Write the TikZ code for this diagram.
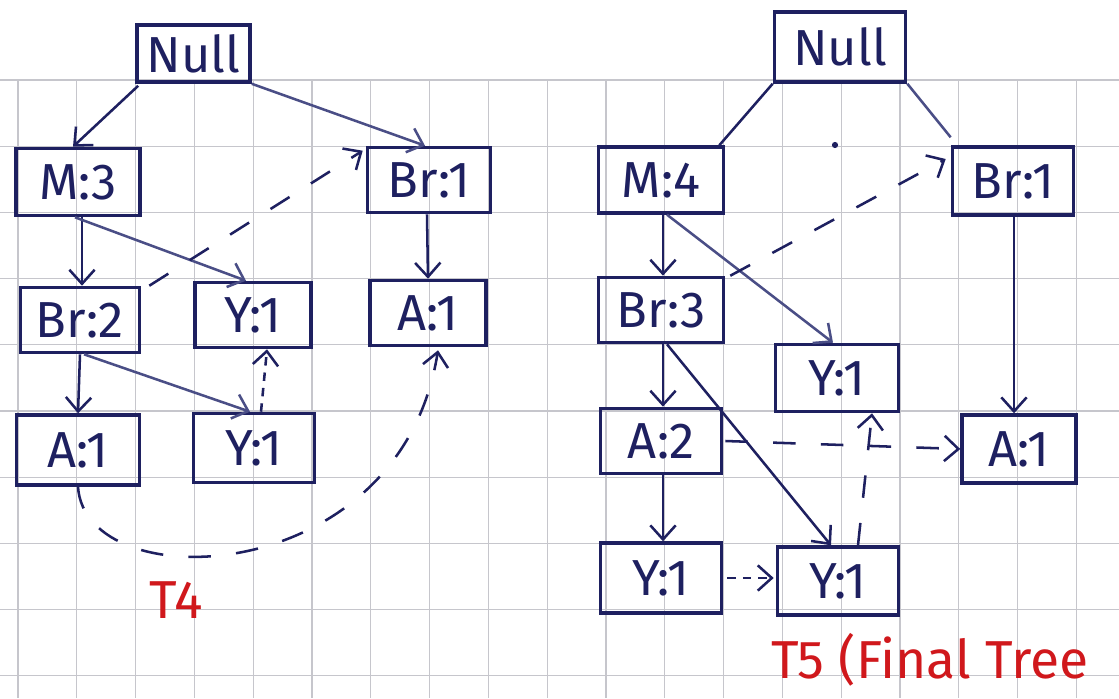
\documentclass[tikz,border=0pt]{standalone}
\usepackage{fontspec}
\setmainfont{Fira Sans}
\usetikzlibrary{arrows.meta,calc}
\definecolor{ink}{HTML}{1E2060}
\definecolor{inklight}{HTML}{4A4E86}
\definecolor{redink}{HTML}{D0181C}
\definecolor{gridc}{HTML}{C6C6CC}
\begin{document}
\begin{tikzpicture}[x=0.025cm,y=-0.025cm,
  box/.style={draw=ink,line width=2.4pt,inner sep=0pt,text=ink,font=\fontsize{36}{40}\selectfont},
  con/.style={draw=ink,line width=1.8pt,-{Straight Barb[length=10pt,width=18pt,line width=1.8pt]}},
  plainln/.style={draw=ink,line width=1.8pt},
  dsh/.style={con,dash pattern=on 16pt off 18pt},
  fdsh/.style={con,dash pattern=on 6pt off 5pt},
  lbl/.style={text=redink,font=\fontsize{38}{42}\selectfont,inner sep=0pt}]
\useasboundingbox (0,0) rectangle (1119,698);
\fill[white] (0,0) rectangle (1119,698);
% graph paper
\foreach \i in {0,...,18} \draw[gridc,line width=0.8pt] ({18+58.8*\i},80) -- ({18+58.8*\i},698);
\foreach \j in {0,...,9} \draw[gridc,line width=0.8pt] (0,{80+66.2*\j}) -- (1119,{80+66.2*\j});

% ---------- left tree ----------
\node[box,minimum width=2.83cm,minimum height=1.43cm] (NullL) at (193.5,53.5) {Null};
\node[box,minimum width=3.1cm,minimum height=1.68cm] (M3) at (78,182) {M:3};
\node[box,minimum width=3.08cm,minimum height=1.63cm] (Br1L) at (429,180) {Br:1};
\node[box,minimum width=2.98cm,minimum height=1.63cm] (Br2) at (80,320) {Br:2};
\node[box,minimum width=2.9cm,minimum height=1.63cm] (Y1a) at (253,315) {Y:1};
\node[box,minimum width=2.9cm,minimum height=1.63cm] (A1r) at (428,313) {A:1};
\node[box,minimum width=3.08cm,minimum height=1.75cm] (A1L) at (78,450) {A:1};
\node[box,minimum width=3.03cm,minimum height=1.73cm] (Y1b) at (254,448) {Y:1};

\draw[con] ($(NullL.south west)+(3,2)$) -- ($(M3.north)+(-5,0)$);
\draw[con,draw=inklight] (NullL.south east) -- ($(Br1L.north)+(-4,0)$);
\draw[con] ($(M3.south)+(4,0)$) -- ($(Br2.north)+(2,0)$);
\draw[con,draw=inklight] ($(M3.south)+(-3,0)$) -- ($(Y1a.north)+(-7,0)$);
\draw[con] (Br2.south) -- (A1L.north);
\draw[con,draw=inklight] ($(Br2.south)+(4,0)$) -- ($(Y1b.north)+(-4,0)$);
\draw[con] ($(Br1L.south)+(-2,0)$) -- (A1r.north);
\draw[dsh] ($(Br2.north east)+(8,0)$) -- ($(Br1L.north west)+(-3,5)$);
\draw[fdsh] ($(Y1b.north)+(7,0)$) -- ($(Y1a.south)+(14,0)$);
\draw[dsh] (A1L.south) .. controls (85,600) and (400,590) .. ($(A1r.south)+(10,3)$);

\node[lbl] (T4) at (176,600) {T4};

% ---------- right tree ----------
\node[box,minimum width=3.28cm,minimum height=1.75cm] (NullR) at (840,47) {Null};
\node[box,minimum width=3.13cm,minimum height=1.65cm] (M4) at (661,180) {M:4};
\node[box,minimum width=3.03cm,minimum height=1.7cm] (Br1R) at (1013,181) {Br:1};
\node[box,minimum width=3.13cm,minimum height=1.63cm] (Br3) at (661,310) {Br:3};
\node[box,minimum width=3.08cm,minimum height=1.68cm] (Y1c) at (837,378) {Y:1};
\node[box,minimum width=3.03cm,minimum height=1.63cm] (A2) at (661,441) {A:2};
\node[box,minimum width=2.85cm,minimum height=1.7cm] (A1R) at (1019,449) {A:1};
\node[box,minimum width=3.03cm,minimum height=1.75cm] (Y1d) at (661,578) {Y:1};
\node[box,minimum width=3.03cm,minimum height=1.7cm] (Y1e) at (838,581) {Y:1};

\draw[plainln] (NullR.south west) -- ($(M4.north east)+(-6,0)$);
\draw[plainln,draw=inklight] (NullR.south east) -- ($(Br1R.north west)+(0,-8)$);
\draw[con] ($(M4.south)+(2,0)$) -- ($(Br3.north)+(2,0)$);
\draw[con,draw=inklight] ($(M4.south)+(6,0)$) -- ($(Y1c.north)+(-4,0)$);
\draw[dsh] ($(Br3.north east)+(5,0)$) -- ($(Br1R.west)+(-5,-22)$);
\draw[con] ($(Br3.south)+(2,0)$) -- ($(A2.north)+(2,0)$);
\draw[con] ($(Br3.south)+(6,0)$) -- ($(Y1e.north)+(-7,0)$);
\draw[con] ($(A2.south)+(2,0)$) -- ($(Y1d.north)+(2,0)$);
\draw[con] ($(Br1R.south)+(1,0)$) -- ($(A1R.north)+(-5,0)$);
\draw[dsh] ($(A2.east)+(2,0)$) -- (A1R.west);
\draw[dsh] ($(Y1e.north)+(20,0)$) -- ($(Y1c.south)+(35,0)$);
\draw[fdsh] ($(Y1d.east)+(4,0)$) -- ($(Y1e.west)+(-2,-3)$);
\fill[ink] (835,145) circle (2.2pt);

\node[lbl,anchor=west] (T5) at (771,660) {T5 (Final Tree};
\end{tikzpicture}
\end{document}
